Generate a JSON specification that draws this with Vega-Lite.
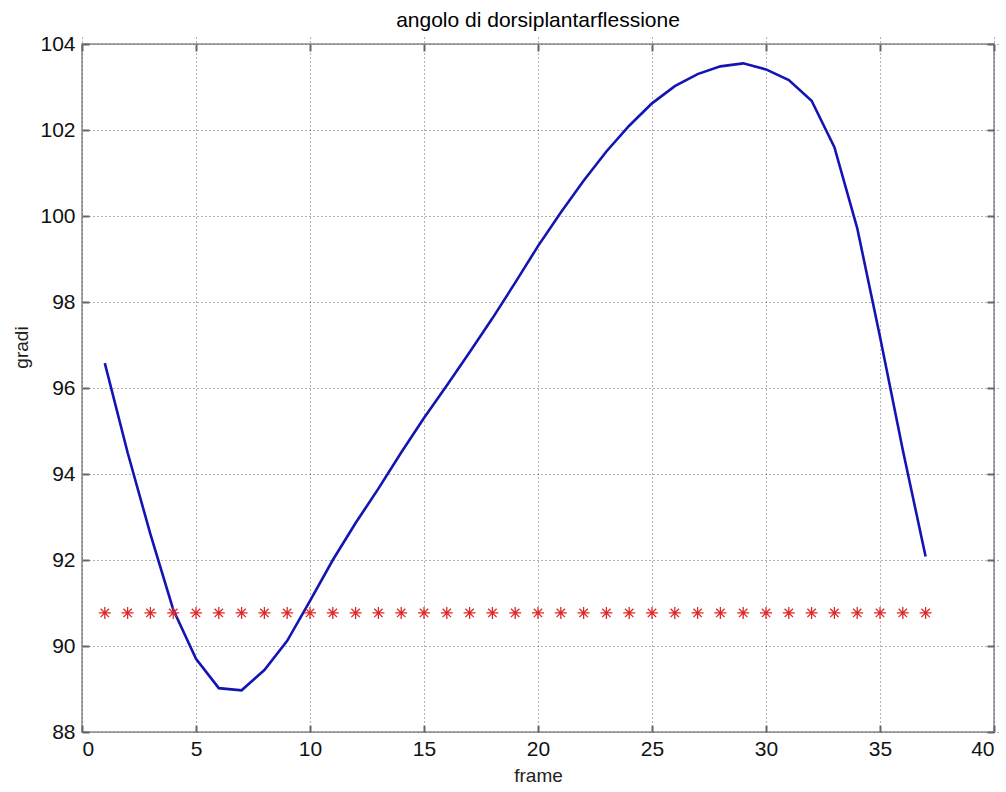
{
  "$schema": "https://vega.github.io/schema/vega-lite/v6.json",
  "width": 912,
  "height": 688,
  "autosize": {"type": "none"},
  "padding": {"left": 82, "top": 44, "right": 12, "bottom": 60},
  "background": "white",
  "title": {
    "text": "angolo di dorsiplantarflessione",
    "anchor": "middle",
    "frame": "group",
    "font": "Liberation Sans",
    "fontSize": 21,
    "fontWeight": "normal",
    "color": "#000000",
    "offset": 2
  },
  "config": {
    "view": {"stroke": "#8a8a8a", "strokeWidth": 1.5},
    "axis": {
      "labelFont": "Liberation Sans",
      "labelFontSize": 21,
      "labelColor": "#111111",
      "titleFont": "Liberation Sans",
      "titleFontSize": 19,
      "titleFontWeight": "normal",
      "titleColor": "#222222",
      "domain": false,
      "tickColor": "#666666",
      "tickWidth": 2,
      "tickSize": 7,
      "offset": -7,
      "gridColor": "#555555",
      "gridDash": [1, 3],
      "gridWidth": 1,
      "gridOpacity": 0.9
    }
  },
  "data": {
    "values": [
      {"frame": 1, "angle": 96.58, "ref": 90.77},
      {"frame": 2, "angle": 94.5, "ref": 90.77},
      {"frame": 3, "angle": 92.6, "ref": 90.77},
      {"frame": 4, "angle": 90.85, "ref": 90.77},
      {"frame": 5, "angle": 89.7, "ref": 90.77},
      {"frame": 6, "angle": 89.02, "ref": 90.77},
      {"frame": 7, "angle": 88.97, "ref": 90.77},
      {"frame": 8, "angle": 89.44, "ref": 90.77},
      {"frame": 9, "angle": 90.12, "ref": 90.77},
      {"frame": 10, "angle": 91.05, "ref": 90.77},
      {"frame": 11, "angle": 92.0, "ref": 90.77},
      {"frame": 12, "angle": 92.86, "ref": 90.77},
      {"frame": 13, "angle": 93.66, "ref": 90.77},
      {"frame": 14, "angle": 94.5, "ref": 90.77},
      {"frame": 15, "angle": 95.3, "ref": 90.77},
      {"frame": 16, "angle": 96.06, "ref": 90.77},
      {"frame": 17, "angle": 96.83, "ref": 90.77},
      {"frame": 18, "angle": 97.62, "ref": 90.77},
      {"frame": 19, "angle": 98.45, "ref": 90.77},
      {"frame": 20, "angle": 99.3, "ref": 90.77},
      {"frame": 21, "angle": 100.08, "ref": 90.77},
      {"frame": 22, "angle": 100.82, "ref": 90.77},
      {"frame": 23, "angle": 101.5, "ref": 90.77},
      {"frame": 24, "angle": 102.1, "ref": 90.77},
      {"frame": 25, "angle": 102.62, "ref": 90.77},
      {"frame": 26, "angle": 103.02, "ref": 90.77},
      {"frame": 27, "angle": 103.3, "ref": 90.77},
      {"frame": 28, "angle": 103.48, "ref": 90.77},
      {"frame": 29, "angle": 103.55, "ref": 90.77},
      {"frame": 30, "angle": 103.41, "ref": 90.77},
      {"frame": 31, "angle": 103.16, "ref": 90.77},
      {"frame": 32, "angle": 102.68, "ref": 90.77},
      {"frame": 33, "angle": 101.6, "ref": 90.77},
      {"frame": 34, "angle": 99.72, "ref": 90.77},
      {"frame": 35, "angle": 97.19, "ref": 90.77},
      {"frame": 36, "angle": 94.56, "ref": 90.77},
      {"frame": 37, "angle": 92.08, "ref": 90.77}
    ]
  },
  "layer": [
    {
      "mark": {"type": "line", "color": "#1414b4", "strokeWidth": 2.6, "clip": true},
      "encoding": {
        "x": {
          "field": "frame",
          "type": "quantitative",
          "scale": {"domain": [0, 40], "nice": false, "zero": false},
          "axis": {
            "orient": "bottom",
            "values": [0, 5, 10, 15, 20, 25, 30, 35, 40],
            "grid": true,
            "title": "frame",
            "labelPadding": 6,
            "titleBaseline": "middle",
            "titleX": 456,
            "titleY": 50
          }
        },
        "y": {
          "field": "angle",
          "type": "quantitative",
          "scale": {"domain": [88, 104], "nice": false, "zero": false},
          "axis": {
            "orient": "left",
            "values": [88, 90, 92, 94, 96, 98, 100, 102, 104],
            "grid": true,
            "title": "gradi",
            "labelPadding": 7,
            "titleAngle": -90,
            "titleBaseline": "middle",
            "titleX": -68,
            "titleY": 303
          }
        }
      }
    },
    {
      "mark": {
        "type": "point",
        "shape": "M-1,0L1,0M0,-1L0,1M-0.7,-0.7L0.7,0.7M-0.7,0.7L0.7,-0.7",
        "filled": false,
        "color": "#e02828",
        "size": 144,
        "strokeWidth": 1.3,
        "opacity": 1
      },
      "encoding": {
        "x": {
          "field": "frame",
          "type": "quantitative",
          "axis": {
            "orient": "top",
            "values": [0, 5, 10, 15, 20, 25, 30, 35, 40],
            "grid": false,
            "labels": false,
            "title": null
          }
        },
        "y": {
          "field": "ref",
          "type": "quantitative",
          "axis": {
            "orient": "right",
            "values": [88, 90, 92, 94, 96, 98, 100, 102, 104],
            "grid": false,
            "labels": false,
            "title": null
          }
        }
      }
    }
  ]
}
